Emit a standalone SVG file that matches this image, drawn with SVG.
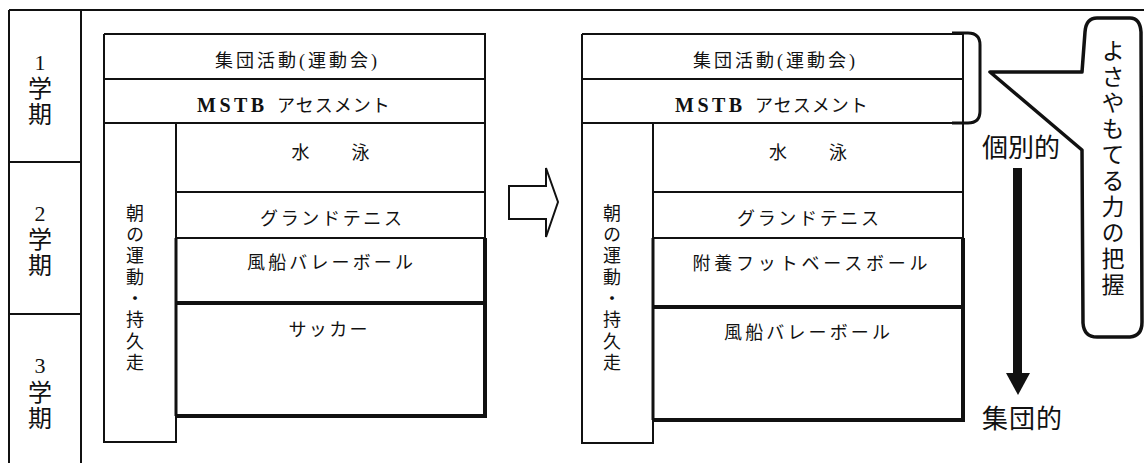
<svg xmlns="http://www.w3.org/2000/svg" width="1144" height="463" viewBox="0 0 1144 463">
<style>
.ln{fill:none;stroke:#111;stroke-width:2}
.tk{fill:none;stroke:#111;stroke-width:4}
.md{fill:none;stroke:#111;stroke-width:3}
.bx{font-family:"Liberation Serif","Noto Sans CJK JP",serif;font-size:18px;fill:#111;text-anchor:middle}
.ms{font-family:"Liberation Serif","Noto Sans CJK JP",serif;font-size:18px;fill:#111}
.pl{font-family:"Liberation Serif","Noto Sans CJK JP",serif;fill:#111;text-anchor:middle}
.vt{font-family:"Noto Sans CJK JP",serif;fill:#111;writing-mode:vertical-rl;text-anchor:start}
.gs{font-family:"Noto Sans CJK JP",sans-serif;fill:#111}
</style>
<rect width="1144" height="463" fill="#fff"/>

<g id="frame">
  <path class="ln" d="M9,10 H1144 M9,10 V463 M81,10 V463 M9,162 H81 M9,314 H81"/>
  <text class="pl" font-size="22" x="40" y="70">1</text>
  <text class="vt" font-size="24" x="40" y="76" letter-spacing="2">学期</text>
  <text class="pl" font-size="22" x="40" y="221">2</text>
  <text class="vt" font-size="24" x="40" y="227" letter-spacing="2">学期</text>
  <text class="pl" font-size="22" x="40" y="373">3</text>
  <text class="vt" font-size="24" x="40" y="380" letter-spacing="2">学期</text>
</g>

<g id="plan-before">
  <path class="ln" d="M104,34 H485 V238 M104,34 V442 H176 V123 M104,79 H485 M104,123 H485 M176,192 H485 M176,238 H485"/>
  <path class="tk" d="M485,238 V416 H176 M176,303 H485"/>
  <path class="md" d="M176,238 V416"/>
  <text class="bx" font-size="19" x="296" y="67" textLength="162" lengthAdjust="spacing">集団活動(運動会)</text>
  <text class="ms" y="112"><tspan x="197" font-weight="bold" font-size="20" letter-spacing="3.5">MSTB</tspan><tspan x="277" letter-spacing="1">アセスメント</tspan></text>
  <text class="bx" font-size="19" x="331.5" y="159" letter-spacing="2">水　　泳</text>
  <text class="bx" x="331" y="224.5" textLength="142" lengthAdjust="spacing">グランドテニス</text>
  <text class="bx" x="330" y="268.5" textLength="166" lengthAdjust="spacing">風船バレーボール</text>
  <text class="bx" x="328" y="336" textLength="79" lengthAdjust="spacing">サッカー</text>
  <text class="vt" font-size="18" x="135" y="204" letter-spacing="3.3">朝の運動・持久走</text>
</g>

<g id="plan-after">
  <path class="ln" d="M582,34 H963 V238 M582,34 V443 H653 V123 M582,79 H963 M582,123 H963 M653,192 H963 M653,238 H963"/>
  <path class="tk" d="M963,238 V420 H653 M653,307 H963"/>
  <path class="md" d="M653,238 V420"/>
  <text class="bx" font-size="19" x="774" y="67" textLength="162" lengthAdjust="spacing">集団活動(運動会)</text>
  <text class="ms" y="112"><tspan x="675" font-weight="bold" font-size="20" letter-spacing="3.5">MSTB</tspan><tspan x="755" letter-spacing="1">アセスメント</tspan></text>
  <text class="bx" font-size="19" x="809" y="159" letter-spacing="2">水　　泳</text>
  <text class="bx" x="808" y="224.5" textLength="142" lengthAdjust="spacing">グランドテニス</text>
  <text class="bx" x="810" y="269.5" textLength="235" lengthAdjust="spacing">附養フットベースボール</text>
  <text class="bx" x="807" y="338.5" textLength="166" lengthAdjust="spacing">風船バレーボール</text>
  <text class="vt" font-size="18" x="612" y="204" letter-spacing="3.3">朝の運動・持久走</text>
</g>

<g id="bracket">
  <path class="md" d="M952,33 H968 Q980,33 980,45 V111 Q980,123 968,123 H952"/>
</g>

<g id="callout">
  <path fill="#fff" stroke="#111" stroke-width="3.5" stroke-linejoin="round" d="M1097,18 H1130 Q1140,18 1141,32 L1142,322 Q1142,336 1130,337 H1097 Q1084,337 1083,323 L1082,150 L990,72 H1082 L1085,32 Q1086,18 1097,18 Z"/>
  <text class="vt gs" font-size="23" x="1113" y="38.5" letter-spacing="3">よさやもてる力の把握</text>
</g>

<g id="label-individual">
  <text class="gs" font-size="26" x="982" y="156.5" textLength="78" lengthAdjust="spacing">個別的</text>
</g>
<g id="label-group">
  <text class="gs" font-size="26" x="982" y="427.5" textLength="80" lengthAdjust="spacing">集団的</text>
</g>

<g id="connectors">
  <polygon points="509,186 546,186 546,168 558,202 546,237 546,219 509,219" fill="#fff" stroke="#111" stroke-width="2" stroke-linejoin="miter"/>
  <rect x="1013" y="168" width="9" height="206" fill="#111"/>
  <polygon points="1006,373 1030,373 1018,395" fill="#111"/>
</g>
</svg>
